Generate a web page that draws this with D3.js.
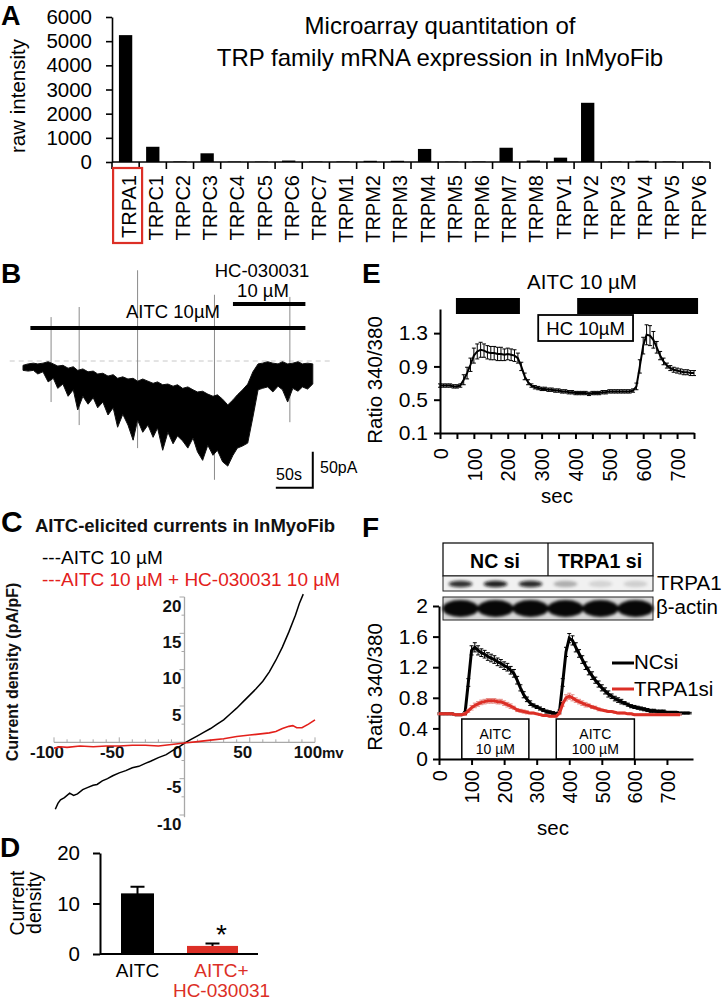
<!DOCTYPE html>
<html><head><meta charset="utf-8">
<script src="https://cdn.jsdelivr.net/npm/d3@7"></script>
<style>
html,body{margin:0;padding:0;background:#fff;}
svg{display:block;}
</style></head><body>
<svg id="fig" width="725" height="1001"></svg>
<script>
// ================= DATA =================
// Panel A: microarray raw intensity
const trpGenes = ["TRPA1","TRPC1","TRPC2","TRPC3","TRPC4","TRPC5","TRPC6","TRPC7","TRPM1","TRPM2","TRPM3","TRPM4","TRPM5","TRPM6","TRPM7","TRPM8","TRPV1","TRPV2","TRPV3","TRPV4","TRPV5","TRPV6"];
const trpIntensity = [5250,630,20,360,15,15,60,20,20,50,50,540,15,20,590,60,180,2450,20,50,20,20];
const aYTicks = [0,1000,2000,3000,4000,5000,6000];

// Panel B: whole-cell current trace envelope (s, pA)
const bSec = [0,7,14,20,27,34,41,47,54,61,68,74,81,88,95,101,108,115,122,128,135,142,149,155,162,169,176,182,189,196,203,209,216,223,230,236,243,250,257,263,270,277,284,290,297,304,311,318,324,331,338,345,351,358,365,372,378,385,392];
const bTopPa = [-6,-4,-3,-4,-3,-1,-4,-7,-6,-10,-8,-13,-11,-15,-14,-18,-17,-21,-19,-24,-22,-25,-24,-28,-25,-28,-31,-29,-33,-32,-35,-33,-38,-36,-40,-43,-42,-46,-49,-47,-53,-61,-54,-47,-40,-32,-15,-4,-3,-1,-3,-4,-1,-4,-3,-1,-4,-3,-4];
const bBotPa = [-13,-14,-13,-18,-15,-29,-24,-38,-32,-49,-40,-68,-49,-60,-51,-65,-57,-75,-65,-92,-74,-89,-110,-82,-99,-89,-106,-93,-124,-99,-115,-104,-111,-121,-107,-126,-138,-117,-131,-124,-140,-146,-131,-121,-118,-114,-78,-40,-38,-36,-43,-35,-40,-57,-38,-42,-36,-39,-32];
const bSpikeSec = [38,76,155,259,361];
const bSpikeTop = [61,75,126,92,89];
const bSpikeBot = [-57,-89,-121,-165,-85];
const bAitcOn = [10,382];
const bHcOn = [284,382];

// Panel E: Fura-2 ratio
const eSec = [0,10,20,30,40,50,60,70,80,90,100,110,120,130,140,150,160,170,180,190,200,210,220,230,240,250,260,270,280,290,300,310,320,330,340,350,360,370,380,390,400,410,420,430,440,450,460,470,480,490,500,510,520,530,540,550,560,570,580,590,600,610,620,630,640,650,660,670,680,690,700,710,720,730,740,750];
const eRatio = [.67,.67,.67,.67,.66,.66,.67,.74,.82,.92,1.03,1.08,1.10,1.09,1.07,1.06,1.06,1.05,1.05,1.04,1.05,1.04,1.03,1.00,.90,.78,.71,.67,.65,.64,.63,.63,.62,.62,.61,.61,.60,.60,.59,.59,.58,.58,.58,.58,.57,.58,.58,.58,.59,.59,.60,.60,.60,.60,.60,.60,.60,.61,.66,.90,1.15,1.28,1.27,1.22,1.13,1.03,.96,.91,.88,.86,.85,.84,.83,.83,.82,.82];
const eErr = [.02,.02,.02,.02,.02,.02,.02,.06,.07,.08,.09,.09,.09,.08,.08,.08,.08,.08,.08,.07,.07,.07,.07,.06,.05,.04,.03,.02,.02,.02,.02,.02,.02,.02,.02,.02,.02,.02,.02,.02,.02,.02,.02,.02,.02,.02,.02,.02,.02,.02,.02,.02,.02,.02,.02,.02,.02,.02,.04,.08,.10,.12,.12,.10,.07,.05,.04,.03,.03,.03,.03,.03,.03,.03,.03,.03];
const eAitcBars = [[47,236],[405,762]];
const eHcBox = [290,570];
const eYTicks = [0.1,0.5,0.9,1.3];
const eXTicks = [0,50,100,150,200,250,300,350,400,450,500,550,600,650,700,750];

// Panel C: I-V curves
const cMvAitc = [-99,-97,-95,-92,-88,-85,-82,-78,-74,-70,-67,-63,-59,-55,-50,-45,-40,-35,-30,-26,-20,-14,-8,-3,0,5,10,15,20,25,30,35,40,45,50,55,60,65,70,75,80,85,88,91];
const cIAitc = [-9.2,-8.4,-7.9,-7.6,-7.0,-7.3,-7.1,-6.5,-6.2,-5.9,-5.8,-5.3,-5.0,-4.6,-4.2,-3.9,-3.5,-3.3,-2.9,-2.6,-2.1,-1.7,-1.0,-0.5,-0.1,0.4,0.9,1.4,1.9,2.5,3.1,3.9,4.7,5.6,6.5,7.4,8.4,9.7,11.3,13.1,15.2,17.5,19.1,20.4];
const cMvHc = [-100,-95,-90,-80,-70,-60,-50,-40,-30,-20,-10,0,10,20,30,40,50,60,65,70,75,80,83,86,90,95,100];
const cIHc = [-0.8,-0.6,-0.7,-0.5,-0.6,-0.5,-0.5,-0.4,-0.4,-0.5,-0.3,-0.1,0.1,0.3,0.5,0.8,1.0,1.2,1.3,1.5,1.9,2.2,2.3,2.0,2.0,2.5,3.1];
const cXTicks = [-100,-50,0,50,100];
const cYTicks = [-10,-5,5,10,15,20];

// Panel D: mean current density
const dGroups = ["AITC","AITC+HC-030031"];
const dMean = [11.9,1.6];
const dSem = [1.4,0.5];
const dYTicks = [0,10,20];

// Panel F: siRNA knockdown
const fLanes = ["NC si 1","NC si 2","NC si 3","TRPA1 si 1","TRPA1 si 2","TRPA1 si 3"];
const fTrpa1Band = [0.85,0.92,0.88,0.28,0.12,0.14];
const fActinBand = [0.97,0.97,0.97,0.97,0.97,0.97];
const fSec = [0,10,20,30,40,50,60,70,80,90,100,110,120,130,140,150,160,170,180,190,200,210,220,230,240,250,260,270,280,290,300,310,320,330,340,350,360,370,380,390,400,410,420,430,440,450,460,470,480,490,500,510,520,530,540,550,560,570,580,590,600,610,620,630,640,650,660,670,680,690,700,710,720,730,740,750,760,770];
const fNCsi = [.59,.59,.59,.59,.59,.58,.58,.58,.60,1.00,1.42,1.46,1.42,1.39,1.37,1.34,1.32,1.30,1.27,1.25,1.22,1.20,1.16,1.12,1.03,.93,.84,.78,.73,.70,.68,.66,.64,.62,.61,.60,.59,.62,1.00,1.40,1.58,1.55,1.46,1.38,1.30,1.22,1.15,1.09,1.03,.98,.93,.89,.85,.82,.79,.77,.75,.73,.71,.69,.68,.67,.66,.65,.64,.63,.63,.62,.62,.62,.61,.61,.61,.61,.60,.60,.60,.60];
const fNCerr = [.01,.01,.01,.01,.01,.01,.01,.01,.02,.05,.06,.06,.06,.05,.05,.05,.05,.05,.05,.05,.05,.05,.05,.05,.05,.04,.04,.03,.03,.02,.02,.02,.02,.02,.02,.02,.02,.02,.05,.06,.06,.06,.06,.05,.05,.05,.05,.05,.04,.04,.04,.04,.04,.03,.03,.03,.03,.02,.02,.02,.02,.02,.02,.02,.02,.02,.02,.02,.02,.02,.01,.01,.01,.01,.01,.01,.01,.01];
const fTRPA1si = [.59,.59,.59,.59,.59,.58,.58,.58,.59,.63,.67,.70,.72,.74,.75,.76,.76,.76,.75,.75,.73,.71,.69,.67,.64,.63,.62,.61,.60,.60,.59,.58,.57,.57,.56,.56,.56,.60,.72,.80,.82,.80,.77,.75,.73,.71,.70,.68,.67,.65,.64,.63,.62,.62,.61,.60,.60,.60,.59,.59,.58,.58,.58,.58,.58,.58,.58,.58,.58,.58,.58,.58,.58,.58,.58];
const fSiErr = [.01,.01,.01,.01,.01,.01,.01,.01,.02,.02,.03,.03,.03,.03,.03,.03,.03,.03,.03,.03,.03,.03,.03,.02,.02,.02,.02,.02,.01,.01,.01,.01,.01,.01,.01,.01,.01,.02,.03,.04,.04,.04,.03,.03,.03,.03,.02,.02,.02,.02,.01,.01,.01,.01,.01,.01,.01,.01,.01,.01,.01,.01,.01,.01,.01,.01,.01,.01,.01,.01,.01,.01,.01,.01,.01];
const fAitcBoxes = [[70,276,"AITC","10 µM"],[360,600,"AITC","100 µM"]];
const fYTicks = [0,0.4,0.8,1.2,1.6,2];
const fXTicks = [0,100,200,300,400,500,600,700];

// ================= DRAWING =================
const FONT = '"Liberation Sans", Arial, Helvetica, sans-serif';
const RED = "#dc2f26";
const svg = d3.select("#fig").attr("font-family", FONT);
svg.append("rect").attr("width",725).attr("height",1001).attr("fill","#fff");

function txt(g, x, y, s, o = {}) {
  const t = g.append("text").attr("x", x).attr("y", y).text(s)
    .attr("font-size", o.size || 19).attr("fill", o.fill || "#000")
    .attr("text-anchor", o.anchor || "start");
  if (o.bold) t.attr("font-weight", "bold");
  if (o.rotate) t.attr("transform", `rotate(${o.rotate},${x},${y})`);
  if (o.baseline) t.attr("dominant-baseline", o.baseline);
  return t;
}
function styleAxis(g, size, o = {}) {
  g.attr("font-family", FONT).attr("font-size", size);
  if (o.bold) g.attr("font-weight", "bold");
  g.selectAll("text").attr("fill", o.fill || "#000");
  g.selectAll("line").attr("stroke", o.stroke || "#000").attr("stroke-width", o.sw || 1.6);
  g.select(".domain").attr("stroke", o.stroke || "#000").attr("stroke-width", o.sw || 1.6);
}
function errBars(g, xs, ys, es, x, y, color, cap, sw) {
  const d = xs.map((t, i) => ({ t, v: ys[i], e: es[i] }));
  g.append("g").selectAll("path").data(d).join("path")
    .attr("d", p => {
      const X = x(p.t), y1 = y(p.v + p.e), y2 = y(p.v - p.e);
      return `M${X},${y1}V${y2}M${X - cap},${y1}H${X + cap}M${X - cap},${y2}H${X + cap}`;
    })
    .attr("stroke", color).attr("stroke-width", sw).attr("fill", "none");
}

// ---------- Panel A ----------
{
  const g = svg.append("g");
  const xA = d3.scaleBand().domain(trpGenes).range([112, 710]).paddingInner(0.51).paddingOuter(0.255);
  const yA = d3.scaleLinear().domain([0, 6000]).range([162, 17]);
  const bw = xA.bandwidth(), st = xA.step();
  g.selectAll(".barA").data(trpGenes).join("rect").attr("class", "barA")
    .attr("x", d => xA(d)).attr("width", bw)
    .attr("y", (d, i) => yA(trpIntensity[i])).attr("height", (d, i) => yA(0) - yA(trpIntensity[i]))
    .attr("fill", "#000");
  const ay = g.append("g").attr("transform", "translate(112,0)")
    .call(d3.axisLeft(yA).tickValues(aYTicks).tickFormat(d3.format("d")).tickSize(6).tickPadding(14).tickSizeOuter(0));
  styleAxis(ay, 20.5);
  g.append("line").attr("x1", 112).attr("x2", 710).attr("y1", yA(0)).attr("y2", yA(0)).attr("stroke", "#000").attr("stroke-width", 1.6);
  const bounds = trpGenes.map(d => xA(d) + bw / 2 - st / 2).concat([xA(trpGenes[trpGenes.length - 1]) + bw / 2 + st / 2]);
  g.selectAll(".tkA").data(bounds).join("line").attr("class", "tkA")
    .attr("x1", d => d).attr("x2", d => d).attr("y1", yA(0)).attr("y2", yA(0) + 7)
    .attr("stroke", "#000").attr("stroke-width", 1.6);
  g.selectAll(".lblA").data(trpGenes).join("text").attr("class", "lblA")
    .attr("transform", d => `translate(${xA(d) + bw / 2 + 3},175) rotate(-90)`)
    .attr("text-anchor", "end").attr("dominant-baseline", "central")
    .attr("font-size", 20).text(d => d);
  g.append("rect").attr("x", xA("TRPA1") + bw / 2 - 12.5).attr("y", 168).attr("width", 29).attr("height", 75)
    .attr("fill", "none").attr("stroke", RED).attr("stroke-width", 2.2);
  txt(g, 440, 34, "Microarray quantitation of", { size: 24, anchor: "middle" });
  txt(g, 440, 66, "TRP family mRNA expression in InMyoFib", { size: 24, anchor: "middle" });
  txt(g, 25, 96, "raw intensity", { size: 20.5, anchor: "middle", rotate: -90 });
  txt(g, 1, 25, "A", { size: 27, bold: true });
}

// ---------- Panel B ----------
{
  const g = svg.append("g");
  const xB = d3.scaleLinear().domain([0, 395]).range([23, 315]);
  const yB = d3.scaleLinear().domain([0, -50]).range([361, 397]);
  g.append("line").attr("x1", xB(-18)).attr("x2", xB(415)).attr("y1", yB(0)).attr("y2", yB(0))
    .attr("stroke", "#c8c8c8").attr("stroke-width", 1).attr("stroke-dasharray", "5,4");
  g.selectAll(".spk").data(bSpikeSec).join("line").attr("class", "spk")
    .attr("x1", d => xB(d)).attr("x2", d => xB(d))
    .attr("y1", (d, i) => yB(bSpikeTop[i])).attr("y2", (d, i) => yB(bSpikeBot[i]))
    .attr("stroke", "#8a8a8a").attr("stroke-width", 1);
  const pts = bSec.map((t, i) => ({ t, a: bTopPa[i], b: bBotPa[i] }));
  g.append("path").datum(pts)
    .attr("d", d3.area().x(p => xB(p.t)).y0(p => yB(p.b)).y1(p => yB(p.a)))
    .attr("fill", "#000").attr("stroke", "#111").attr("stroke-width", 1);
  g.append("rect").attr("x", xB(bAitcOn[0])).attr("width", xB(bAitcOn[1]) - xB(bAitcOn[0])).attr("y", 326).attr("height", 4).attr("fill", "#000");
  g.append("rect").attr("x", xB(bHcOn[0])).attr("width", xB(bHcOn[1]) - xB(bHcOn[0])).attr("y", 302).attr("height", 4).attr("fill", "#000");
  txt(g, 173, 318, "AITC 10µM", { size: 18.5, anchor: "middle" });
  txt(g, 262, 277, "HC-030031", { size: 18.5, anchor: "middle" });
  txt(g, 263, 297, "10 µM", { size: 18.5, anchor: "middle" });
  const sbT = 392, sbI = -176;
  g.append("path").attr("d", `M${xB(sbT - 50)},${yB(sbI)}H${xB(sbT)}V${yB(sbI + 50)}`)
    .attr("fill", "none").attr("stroke", "#000").attr("stroke-width", 2);
  txt(g, 289, 480, "50s", { size: 16, anchor: "middle" });
  txt(g, 320, 473, "50pA", { size: 16 });
  txt(g, 1, 283, "B", { size: 28, bold: true });
}

// ---------- Panel E ----------
{
  const g = svg.append("g");
  const xE = d3.scaleLinear().domain([0, 750]).range([440, 694]);
  const yE = d3.scaleLinear().domain([0.1, 1.59]).range([433, 309]);
  eAitcBars.forEach(b => g.append("rect").attr("x", xE(b[0])).attr("width", xE(b[1]) - xE(b[0])).attr("y", 298).attr("height", 16).attr("fill", "#000"));
  g.append("rect").attr("x", xE(eHcBox[0])).attr("width", xE(eHcBox[1]) - xE(eHcBox[0])).attr("y", 315).attr("height", 26)
    .attr("fill", "#fff").attr("stroke", "#000").attr("stroke-width", 1.8);
  txt(g, (xE(eHcBox[0]) + xE(eHcBox[1])) / 2, 335, "HC 10µM", { size: 18.5, anchor: "middle" });
  txt(g, 582, 289, "AITC 10 µM", { size: 20.5, anchor: "middle" });
  const ay = g.append("g").attr("transform", "translate(440,0)")
    .call(d3.axisLeft(yE).tickValues(eYTicks).tickFormat(d3.format(".1f")).tickSize(6).tickPadding(6).tickSizeOuter(0));
  styleAxis(ay, 21, { sw: 2 });
  const ax = g.append("g").attr("transform", "translate(0,433)")
    .call(d3.axisBottom(xE).tickValues(eXTicks).tickFormat(d => d % 100 === 0 ? d : "").tickSize(6).tickSizeOuter(0));
  styleAxis(ax, 20, { sw: 2 });
  ax.selectAll("text").attr("transform", "rotate(-90)").attr("text-anchor", "end")
    .attr("x", -15).attr("y", 0).attr("dy", "0.36em");
  errBars(g, eSec, eRatio, eErr, xE, yE, "#000", 2, 1);
  g.append("path").datum(eSec.map((t, i) => [t, eRatio[i]]))
    .attr("d", d3.line().x(p => xE(p[0])).y(p => yE(p[1])))
    .attr("fill", "none").attr("stroke", "#000").attr("stroke-width", 2);
  txt(g, 382, 380, "Ratio 340/380", { size: 20.5, anchor: "middle", rotate: -90 });
  txt(g, 557, 503, "sec", { size: 20.5, anchor: "middle" });
  txt(g, 362, 283, "E", { size: 28, bold: true });
}

// ---------- Panel C ----------
{
  const g = svg.append("g");
  const xC = d3.scaleLinear().domain([-100, 100]).range([54, 315]);
  const yC = d3.scaleLinear().domain([-10, 20]).range([815, 597]);
  const axCol = "#a8a8a8";
  g.append("line").attr("x1", xC(-100)).attr("x2", xC(100)).attr("y1", yC(0)).attr("y2", yC(0)).attr("stroke", axCol).attr("stroke-width", 1.3);
  g.append("line").attr("x1", xC(0)).attr("x2", xC(0)).attr("y1", yC(20)).attr("y2", yC(-10.3)).attr("stroke", axCol).attr("stroke-width", 1.3);
  g.selectAll(".mtx").data(d3.range(-100, 101, 10)).join("line").attr("class", "mtx")
    .attr("x1", d => xC(d)).attr("x2", d => xC(d)).attr("y1", yC(0)).attr("y2", d => yC(0) - (d % 50 === 0 ? 5 : 3))
    .attr("stroke", axCol).attr("stroke-width", 1);
  g.selectAll(".mty").data(d3.range(-10, 20.1, 2.5)).join("line").attr("class", "mty")
    .attr("y1", d => yC(d)).attr("y2", d => yC(d)).attr("x1", xC(0)).attr("x2", d => xC(0) - (d % 5 === 0 ? 5 : 3))
    .attr("stroke", axCol).attr("stroke-width", 1);
  g.selectAll(".lcx").data(cXTicks).join("text").attr("class", "lcx")
    .attr("x", d => xC(d) - 7).attr("y", 758).attr("text-anchor", "middle")
    .attr("font-size", 17).attr("font-weight", "bold").attr("fill", "#111").text(d => d);
  g.selectAll(".lcy").data(cYTicks).join("text").attr("class", "lcy")
    .attr("x", xC(0) - 3).attr("y", d => yC(d) + 9).attr("text-anchor", "end").attr("dominant-baseline", "central")
    .attr("font-size", 17).attr("font-weight", "bold").attr("fill", "#111").text(d => d);
  txt(g, 322, 758, "mv", { size: 15, bold: true, fill: "#111" });
  const line = d3.line().x(p => xC(p[0])).y(p => yC(p[1]));
  g.append("path").datum(cMvAitc.map((v, i) => [v, cIAitc[i]])).attr("d", line)
    .attr("fill", "none").attr("stroke", "#000").attr("stroke-width", 1.5);
  g.append("path").datum(cMvHc.map((v, i) => [v, cIHc[i]])).attr("d", line)
    .attr("fill", "none").attr("stroke", "#e3201b").attr("stroke-width", 1.6);
  txt(g, 35, 532, "AITC-elicited currents in InMyoFib", { size: 18.5, bold: true, fill: "#111" });
  txt(g, 42, 564, "---AITC 10 µM", { size: 19 });
  txt(g, 42, 586, "---AITC 10 µM + HC-030031 10 µM", { size: 19, fill: "#e3201b" });
  txt(g, 18, 672, "Current density (pA/pF)", { size: 16, bold: true, anchor: "middle", rotate: -90, fill: "#111" });
  txt(g, 1, 532, "C", { size: 30, bold: true });
}

// ---------- Panel D ----------
{
  const g = svg.append("g");
  const xD = d3.scaleBand().domain(dGroups).range([100, 250]);
  const yD = d3.scaleLinear().domain([0, 20]).range([954, 853]);
  const widths = [32, 51];
  const cols = ["#000", RED];
  dGroups.forEach((grp, i) => {
    const cx = xD(grp) + xD.bandwidth() / 2;
    const cap = 7;
    g.append("path").attr("d", `M${cx},${yD(dMean[i])}V${yD(dMean[i] + dSem[i])}M${cx - cap},${yD(dMean[i] + dSem[i])}H${cx + cap}`)
      .attr("stroke", "#000").attr("stroke-width", 2).attr("fill", "none");
    g.append("rect").attr("x", cx - widths[i] / 2).attr("width", widths[i])
      .attr("y", yD(dMean[i])).attr("height", yD(0) - yD(dMean[i])).attr("fill", cols[i]).attr("stroke", "#000").attr("stroke-width", i === 0 ? 1 : 0);
  });
  const ay = g.append("g").attr("transform", "translate(100,0)")
    .call(d3.axisLeft(yD).tickValues(dYTicks).tickSize(7).tickPadding(13).tickSizeOuter(0));
  styleAxis(ay, 20.5, { sw: 2 });
  g.append("line").attr("x1", 100).attr("x2", 258).attr("y1", yD(0)).attr("y2", yD(0)).attr("stroke", "#000").attr("stroke-width", 2);
  const c0 = xD(dGroups[0]) + xD.bandwidth() / 2, c1 = xD(dGroups[1]) + xD.bandwidth() / 2;
  txt(g, c0, 977, "AITC", { size: 19, anchor: "middle" });
  txt(g, c1 + 9, 977, "AITC+", { size: 19, anchor: "middle", fill: RED });
  txt(g, c1 + 9, 997, "HC-030031", { size: 19, anchor: "middle", fill: RED });
  txt(g, c1 + 9, 944, "*", { size: 28, anchor: "middle" });
  txt(g, 24, 903, "Current", { size: 19.5, anchor: "middle", rotate: -90 });
  txt(g, 41, 903, "density", { size: 19.5, anchor: "middle", rotate: -90 });
  txt(g, 0, 857, "D", { size: 28, bold: true });
}

// ---------- Panel F ----------
{
  const g = svg.append("g");
  const defs = svg.append("defs");
  defs.append("filter").attr("id", "blurF").attr("x", "-20%").attr("y", "-50%").attr("width", "140%").attr("height", "200%")
    .append("feGaussianBlur").attr("stdDeviation", 1.4);
  const xL = d3.scaleBand().domain(fLanes).range([443, 653]);
  g.append("rect").attr("x", 443).attr("y", 543).attr("width", 210).attr("height", 33).attr("fill", "#fff").attr("stroke", "#000").attr("stroke-width", 1.2);
  g.append("line").attr("x1", 548).attr("x2", 548).attr("y1", 543).attr("y2", 576).attr("stroke", "#000").attr("stroke-width", 1.2);
  txt(g, 495, 568, "NC si", { size: 19.5, bold: true, anchor: "middle" });
  txt(g, 600, 568, "TRPA1 si", { size: 19.5, bold: true, anchor: "middle" });
  g.append("rect").attr("x", 443).attr("y", 576).attr("width", 210).attr("height", 15).attr("fill", "#f1f1f1").attr("stroke", "#222").attr("stroke-width", 1);
  g.append("g").attr("filter", "url(#blurF)").selectAll("ellipse").data(fLanes).join("ellipse")
    .attr("cx", d => xL(d) + xL.bandwidth() / 2).attr("cy", 584).attr("rx", 12).attr("ry", 3.2)
    .attr("fill", "#111").attr("opacity", (d, i) => fTrpa1Band[i]);
  g.append("rect").attr("x", 443).attr("y", 597).attr("width", 210).attr("height", 23).attr("fill", "#d8d8d8").attr("stroke", "#222").attr("stroke-width", 1);
  g.append("g").attr("filter", "url(#blurF)").selectAll("ellipse").data(fLanes).join("ellipse")
    .attr("cx", d => xL(d) + xL.bandwidth() / 2).attr("cy", 608.5).attr("rx", 18).attr("ry", 8.5)
    .attr("fill", "#000").attr("opacity", (d, i) => fActinBand[i]);
  txt(g, 657, 590, "TRPA1", { size: 20.5 });
  txt(g, 656, 614, "β-actin", { size: 20.5 });

  const xF = d3.scaleLinear().domain([0, 780]).range([439, 693]);
  const yF = d3.scaleLinear().domain([0, 2]).range([759, 606]);
  fAitcBoxes.forEach(b => {
    g.append("rect").attr("x", xF(b[0])).attr("width", xF(b[1]) - xF(b[0])).attr("y", 719).attr("height", yF(0) - 719)
      .attr("fill", "#fff").attr("stroke", "#000").attr("stroke-width", 1.5);
    const cx = (xF(b[0]) + xF(b[1])) / 2;
    txt(g, cx, 739, b[2], { size: 14, anchor: "middle" });
    txt(g, cx, 754, b[3], { size: 14, anchor: "middle" });
  });
  const ay = g.append("g").attr("transform", "translate(439,0)")
    .call(d3.axisLeft(yF).tickValues(fYTicks).tickFormat(d => (d === 0 || d === 2) ? d : d3.format(".1f")(d)).tickSize(6).tickPadding(5).tickSizeOuter(0));
  styleAxis(ay, 21, { sw: 2 });
  const ax = g.append("g").attr("transform", "translate(0,759)")
    .call(d3.axisBottom(xF).tickValues(fXTicks).tickSize(6).tickSizeOuter(0));
  styleAxis(ax, 20, { sw: 2 });
  ax.selectAll("text").attr("transform", "rotate(-90)").attr("text-anchor", "end")
    .attr("x", -11).attr("y", 0).attr("dy", "0.36em");
  const fSecSi = fSec.slice(0, fTRPA1si.length);
  errBars(g, fSec, fNCsi, fNCerr, xF, yF, "#000", 2, 1);
  g.append("path").datum(fSec.map((t, i) => [t, fNCsi[i]]))
    .attr("d", d3.line().x(p => xF(p[0])).y(p => yF(p[1])))
    .attr("fill", "none").attr("stroke", "#000").attr("stroke-width", 3);
  errBars(g, fSecSi, fTRPA1si, fSiErr, xF, yF, "#e58a84", 2, 1);
  g.append("path").datum(fSecSi.map((t, i) => [t, fTRPA1si[i]]))
    .attr("d", d3.line().x(p => xF(p[0])).y(p => yF(p[1])))
    .attr("fill", "none").attr("stroke", RED).attr("stroke-width", 3);
  g.append("line").attr("x1", 612).attr("x2", 634).attr("y1", 663).attr("y2", 663).attr("stroke", "#000").attr("stroke-width", 3);
  txt(g, 634, 669, "NCsi", { size: 20.5 });
  g.append("line").attr("x1", 612).attr("x2", 634).attr("y1", 689).attr("y2", 689).attr("stroke", RED).attr("stroke-width", 3);
  txt(g, 634, 696, "TRPA1si", { size: 20.5 });
  txt(g, 382, 687, "Ratio 340/380", { size: 20.5, anchor: "middle", rotate: -90 });
  txt(g, 553, 835, "sec", { size: 20.5, anchor: "middle" });
  txt(g, 362, 537, "F", { size: 28, bold: true });
}
</script>
</body></html>
